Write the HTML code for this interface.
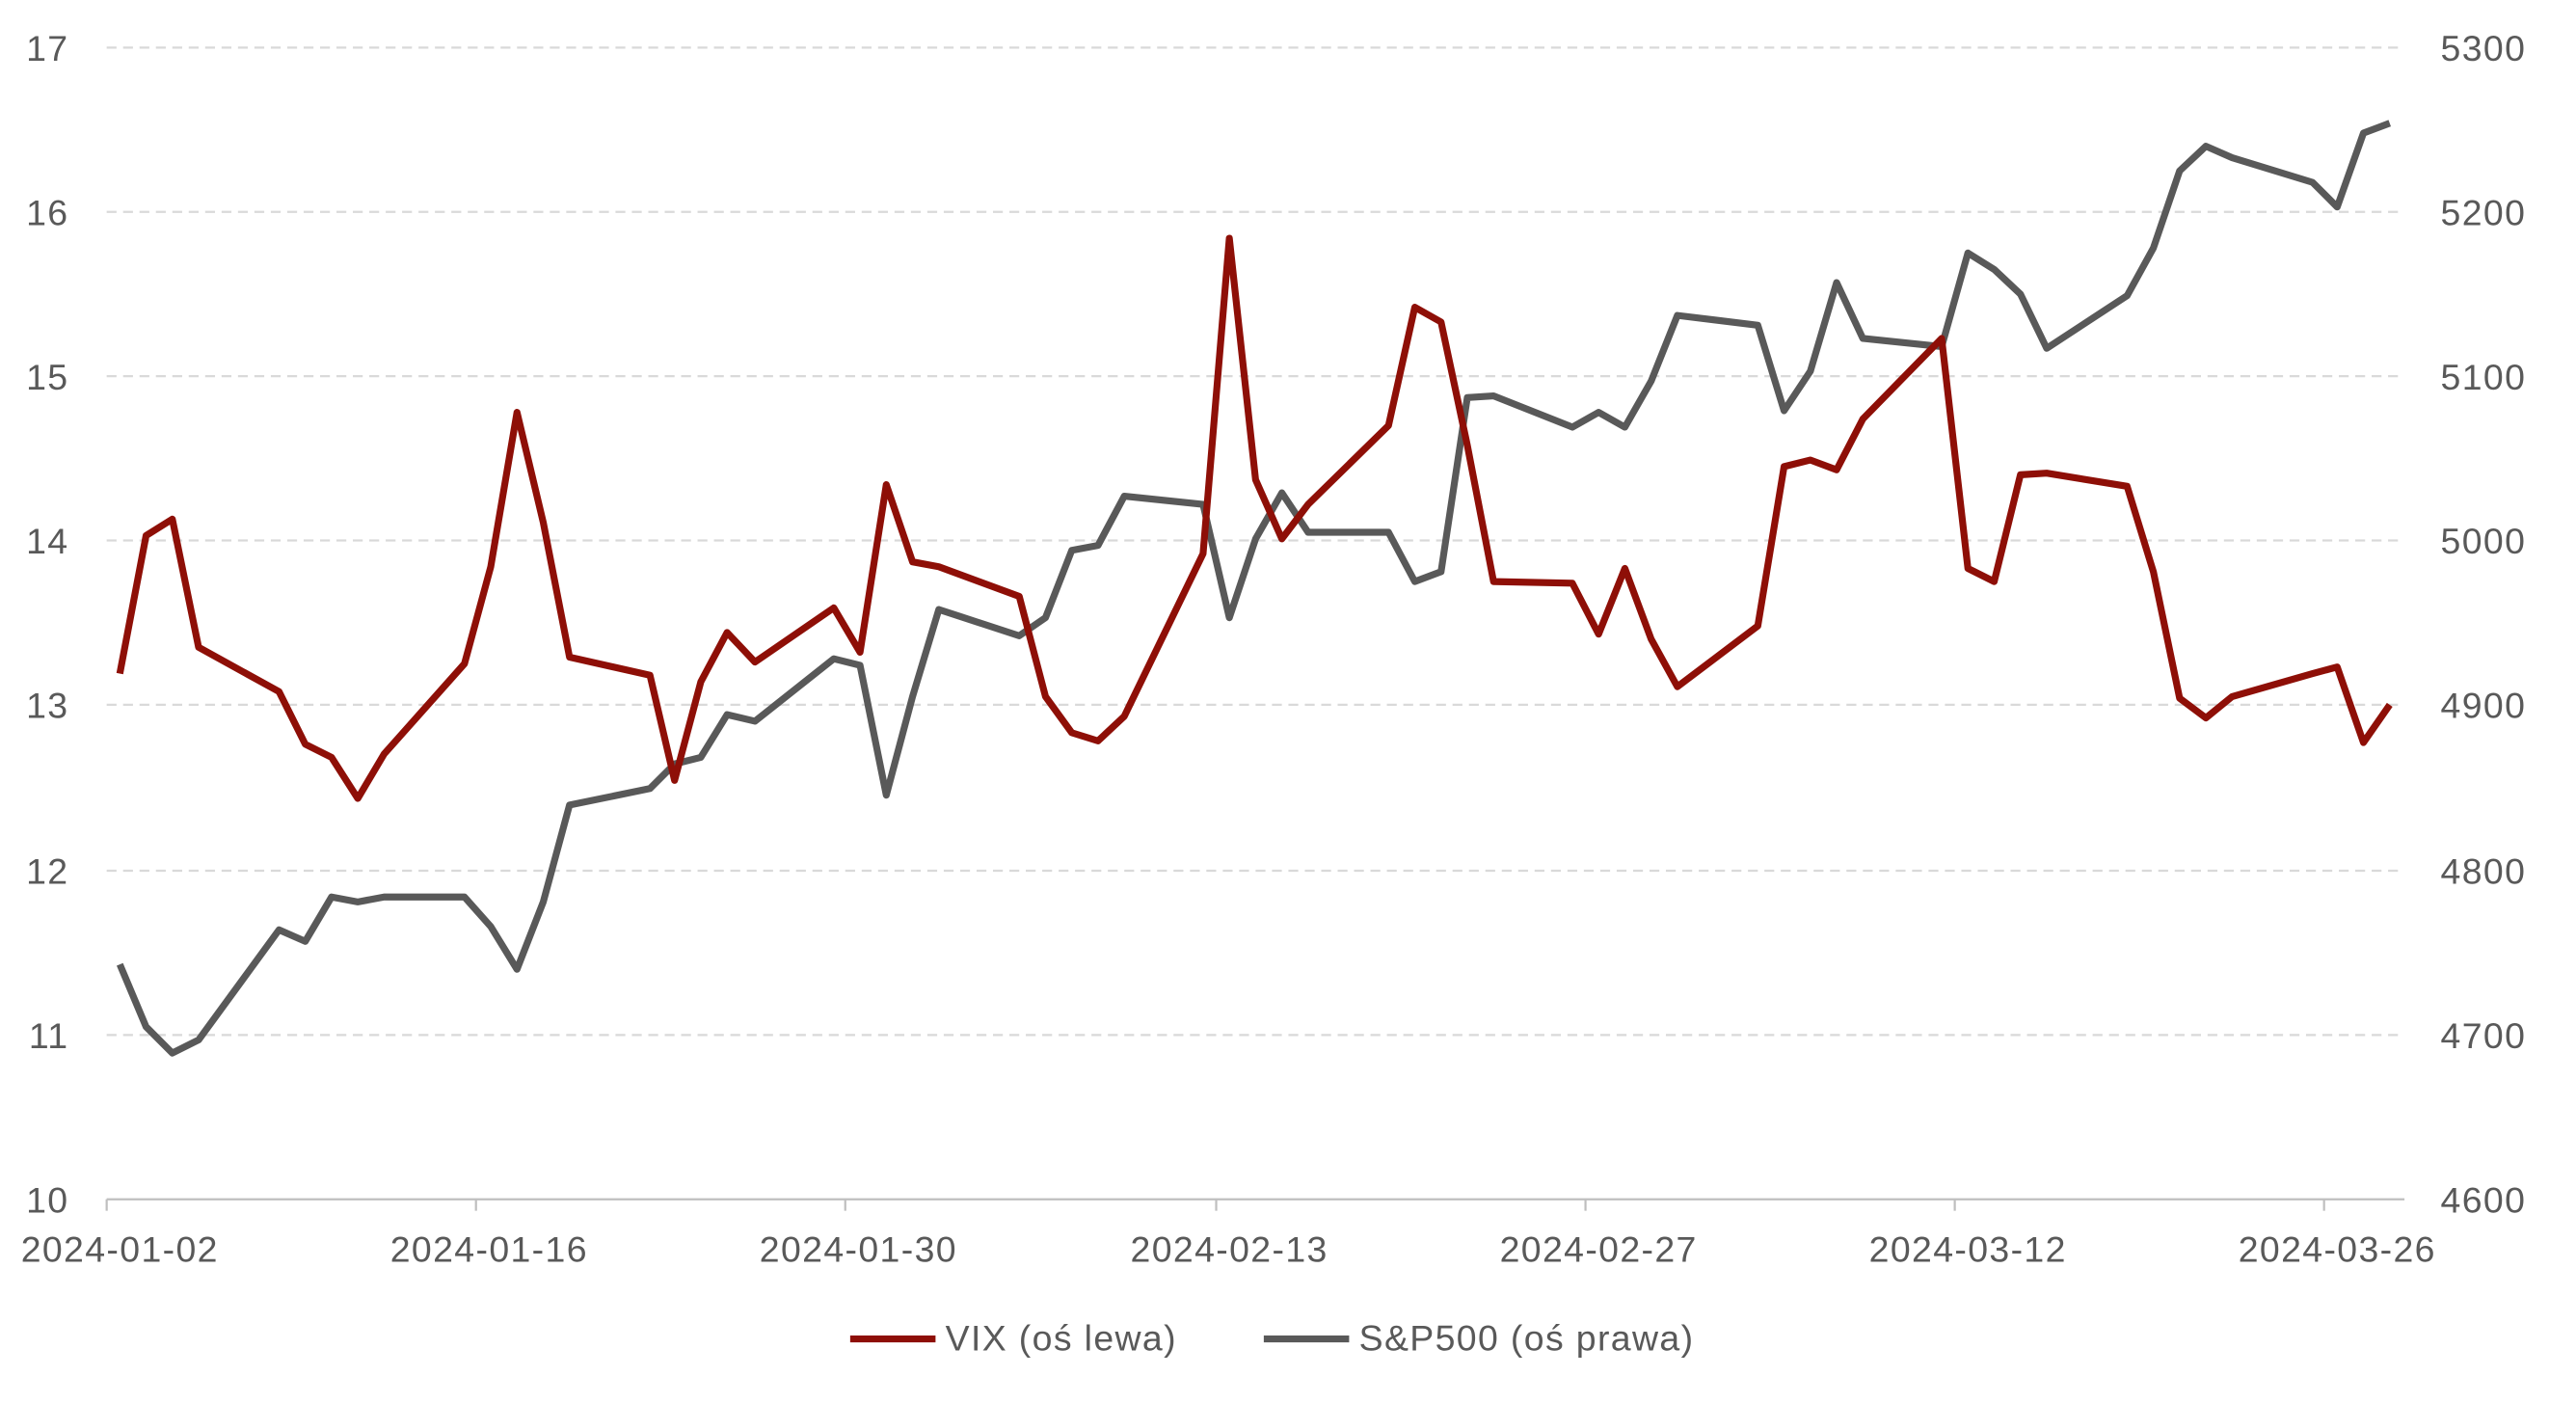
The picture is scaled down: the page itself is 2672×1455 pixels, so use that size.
<!DOCTYPE html>
<html><head><meta charset="utf-8"><style>
html,body{margin:0;padding:0;background:#fff;}
svg{display:block;}
text{font-family:"Liberation Sans",sans-serif;fill:#595959;font-size:22px;letter-spacing:0.8px;}
</style></head><body>
<svg width="2672" height="1455" viewBox="0 0 1569.5 854" preserveAspectRatio="none" xmlns="http://www.w3.org/2000/svg">
<rect width="1569.5" height="854" fill="#fff"/>
<g stroke="#d9d9d9" stroke-width="1.3" stroke-dasharray="6,4">
<line x1="65" x2="1465" y1="29" y2="29"/>
<line x1="65" x2="1465" y1="129" y2="129"/>
<line x1="65" x2="1465" y1="229" y2="229"/>
<line x1="65" x2="1465" y1="329" y2="329"/>
<line x1="65" x2="1465" y1="429" y2="429"/>
<line x1="65" x2="1465" y1="530" y2="530"/>
<line x1="65" x2="1465" y1="630" y2="630"/>
</g>
<line x1="65" x2="1465" y1="730" y2="730" stroke="#bfbfbf" stroke-width="1.3"/>
<g stroke="#bfbfbf" stroke-width="1.3">
<line x1="65" x2="65" y1="730" y2="737"/><line x1="290" x2="290" y1="730" y2="737"/>
<line x1="515" x2="515" y1="730" y2="737"/><line x1="741" x2="741" y1="730" y2="737"/>
<line x1="966" x2="966" y1="730" y2="737"/><line x1="1191" x2="1191" y1="730" y2="737"/>
<line x1="1416" x2="1416" y1="730" y2="737"/>
</g>
<g text-anchor="end">
<text x="42" y="37">17</text><text x="42" y="137">16</text><text x="42" y="237">15</text>
<text x="42" y="337">14</text><text x="42" y="437">13</text><text x="42" y="538">12</text>
<text x="42" y="638">11</text><text x="42" y="738">10</text>
</g>
<g text-anchor="start">
<text x="1487" y="37">5300</text><text x="1487" y="137">5200</text><text x="1487" y="237">5100</text>
<text x="1487" y="337">5000</text><text x="1487" y="437">4900</text><text x="1487" y="538">4800</text>
<text x="1487" y="638">4700</text><text x="1487" y="738">4600</text>
</g>
<g text-anchor="middle">
<text x="73" y="768">2024-01-02</text><text x="298" y="768">2024-01-16</text>
<text x="523" y="768">2024-01-30</text><text x="749" y="768">2024-02-13</text>
<text x="974" y="768">2024-02-27</text><text x="1199" y="768">2024-03-12</text>
<text x="1424" y="768">2024-03-26</text>
</g>
<polyline fill="none" stroke="#595959" stroke-width="4.2" stroke-linejoin="round" points="73,587 89,625 105,641 121,633 170,566 186,573 202,546 218,549 234,546 283,546 299,564 315,590 331,549 347,490 396,480 411,465 427,461 443,435 460,439 508,401 524,405 540,484 556,424 572,371 621,387 637,376 653,335 669,332 685,302 733,307 749,376 765,328 781,300 797,324 846,324 862,354 878,348 894,242 910,241 958,260 974,251 990,260 1006,232 1022,192 1071,198 1087,250 1103,226 1119,172 1135,206 1183,211 1199,154 1215,164 1231,179 1247,212 1296,180 1312,151 1328,104 1344,89 1360,96 1409,111 1424,126 1440,81 1456,75"/>
<polyline fill="none" stroke="#8e0f07" stroke-width="4.2" stroke-linejoin="round" points="73,410 89,326 105,316 121,394 170,421 186,453 202,461 218,486 234,459 283,404 299,345 315,251 331,318 347,400 396,411 411,475 427,415 443,385 460,403 508,370 524,397 540,295 556,342 572,345 621,363 637,424 653,446 669,451 685,436 733,337 749,145 765,292 781,328 797,307 846,259 862,187 878,196 894,271 910,354 958,355 974,386 990,346 1006,389 1022,418 1071,381 1087,284 1103,280 1119,286 1135,255 1183,206 1199,346 1215,354 1231,289 1247,288 1296,296 1312,348 1328,425 1344,437 1360,424 1409,410 1424,406 1440,452 1456,429"/>
<line x1="518" x2="570" y1="815" y2="815" stroke="#8e0f07" stroke-width="4.2"/>
<text x="576" y="822">VIX (oś lewa)</text>
<line x1="770" x2="822" y1="815" y2="815" stroke="#595959" stroke-width="4.2"/>
<text x="828" y="822">S&amp;P500 (oś prawa)</text>
</svg>
</body></html>
